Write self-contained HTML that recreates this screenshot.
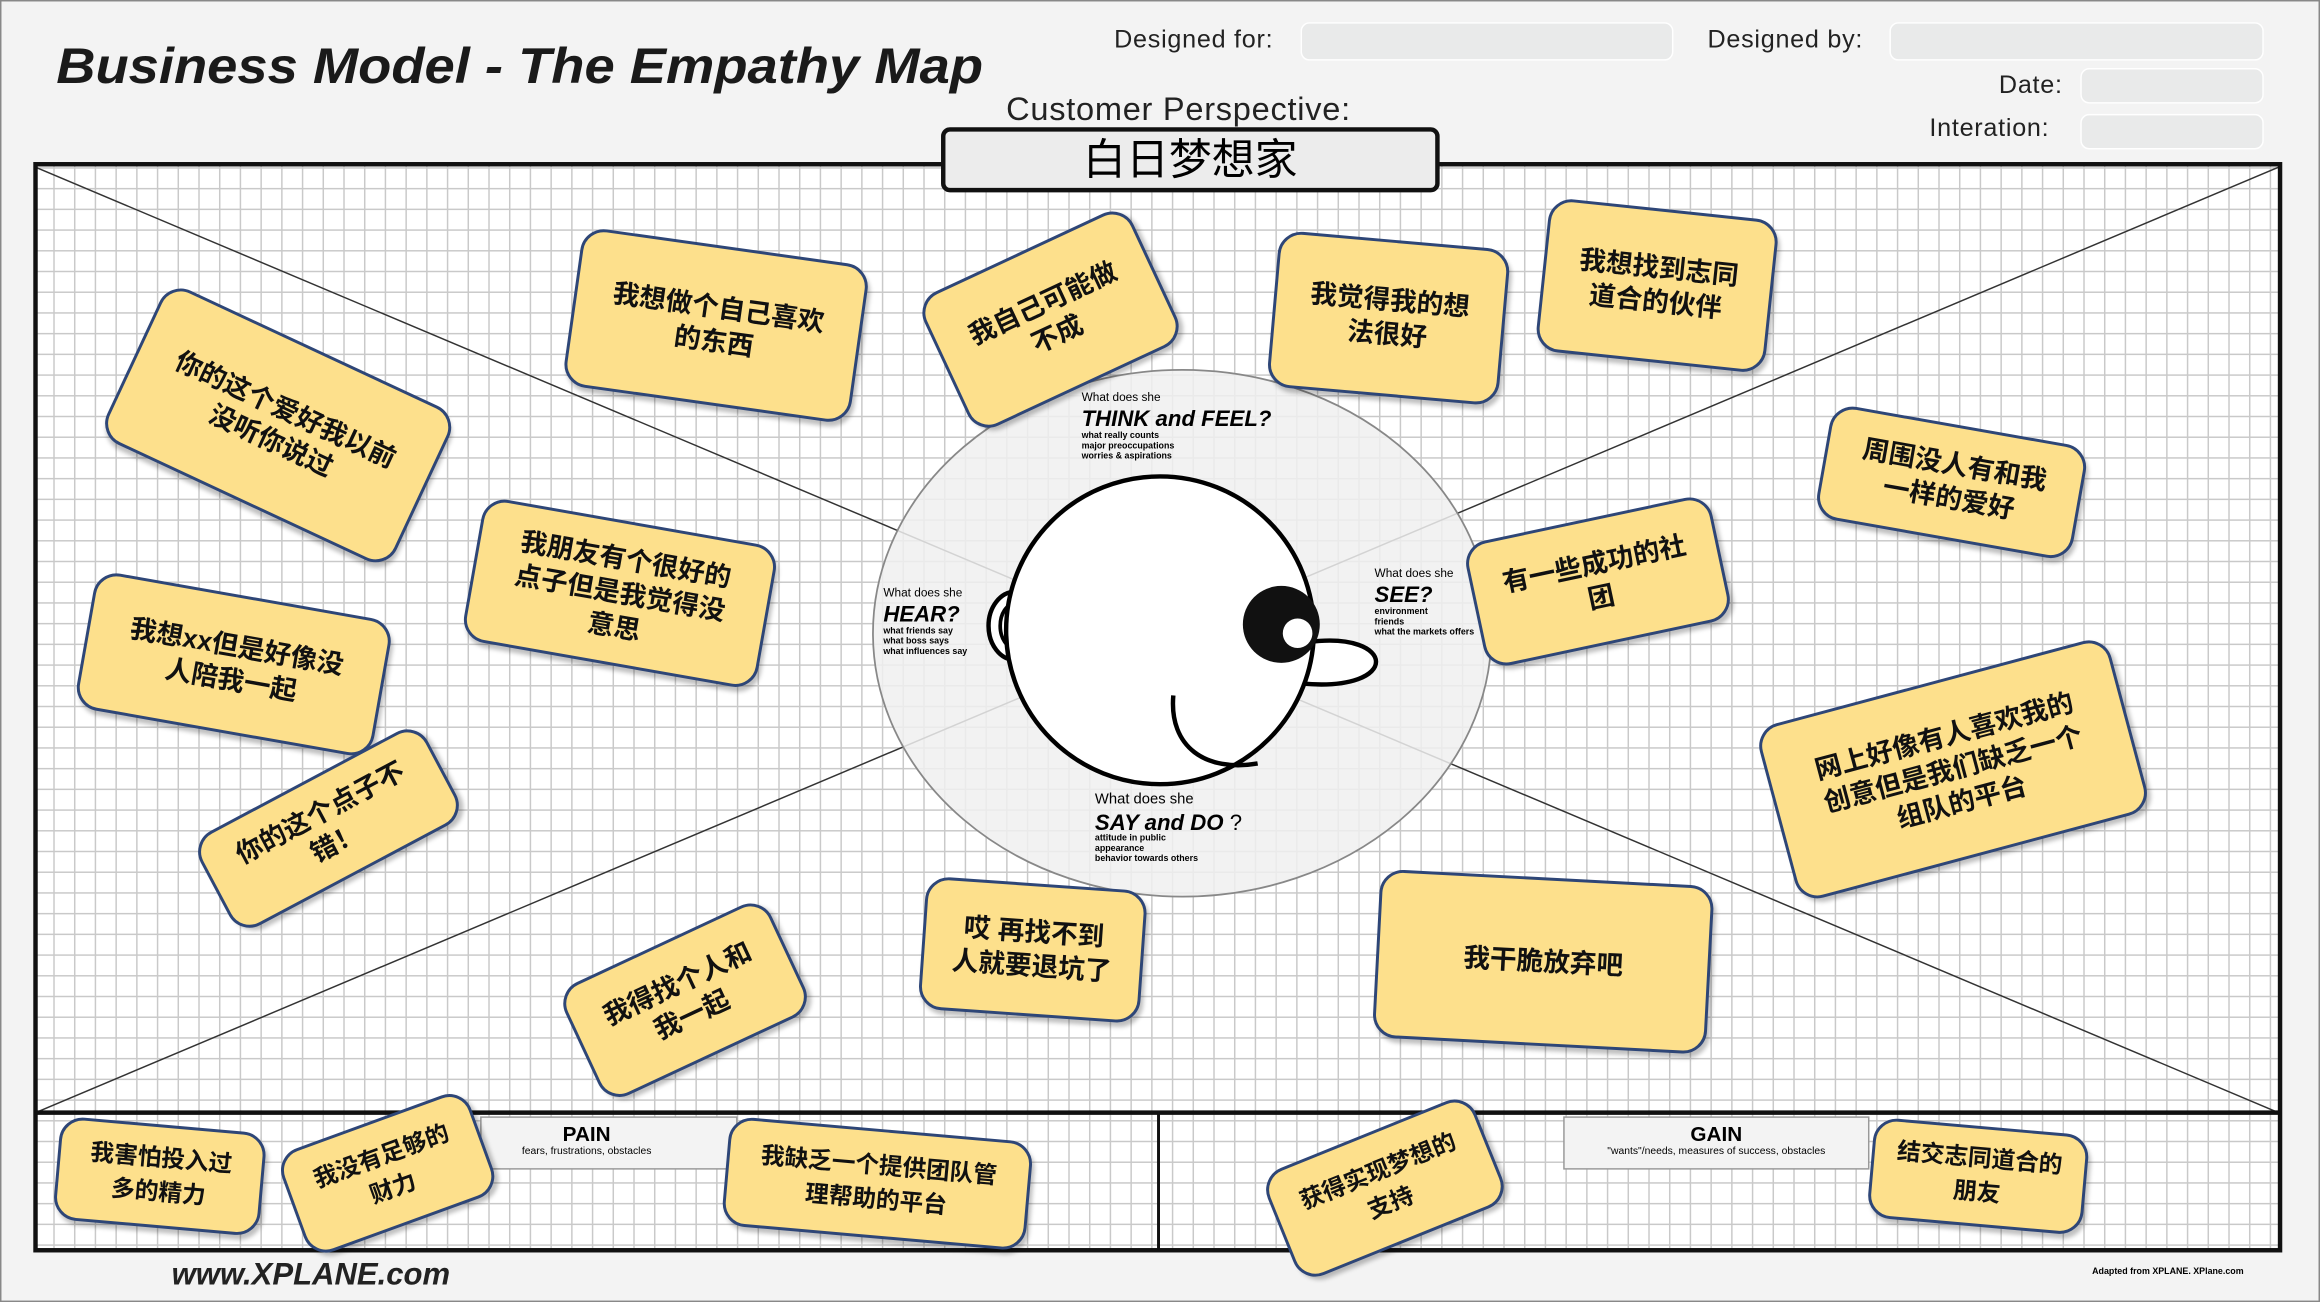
<!DOCTYPE html>
<html><head><meta charset="utf-8">
<style>
html,body{margin:0;padding:0;width:2320px;height:1302px;overflow:hidden;background:#f3f3f3}
#s{position:absolute;left:0;top:0;width:1568px;height:880px;transform:scale(1.479592);transform-origin:0 0;font-family:"Liberation Sans","Noto Sans CJK SC",sans-serif;}
.grid{position:absolute;left:24px;top:111px;width:1517px;height:734px;background-color:#fff;
background-image:linear-gradient(#c9c9c9 1px,transparent 1px),linear-gradient(90deg,#c9c9c9 1px,transparent 1px);background-size:14px 14px;background-position:-2px 2px;}
.n{position:absolute;background:#fde08c;border:2px solid #2e4677;border-radius:16px;display:flex;align-items:center;justify-content:center;text-align:center;font-weight:bold;font-size:18px;line-height:23px;color:#111;box-shadow:2px 3px 3px rgba(0,0,0,.25);box-sizing:border-box;padding:4px 4px;white-space:nowrap;font-family:"Liberation Sans","Noto Sans CJK SC",sans-serif}
.f{position:absolute;background:#e9eaea;border-radius:6px;border:1px solid #fff}
.l{position:absolute;font-size:17px;color:#222;letter-spacing:.5px;white-space:nowrap}
.sm{font-size:6px;font-weight:bold;line-height:7px}
</style></head><body><div id="s">
<div style="position:absolute;left:0;top:0;width:1566px;height:878px;border:1px solid #888"></div>
<div style="position:absolute;left:38px;top:26px;font-size:34px;font-weight:bold;font-style:italic;color:#1a1a1a;transform:scaleX(1.08);transform-origin:0 0;white-space:nowrap">Business Model - The Empathy Map</div>
<div class="l" style="left:753px;top:17px">Designed for:</div>
<div class="f" style="left:879px;top:15px;width:250px;height:24px"></div>
<div class="l" style="left:1154px;top:17px">Designed by:</div>
<div class="f" style="left:1277px;top:15px;width:251px;height:24px"></div>
<div class="l" style="left:1351px;top:48px">Date:</div>
<div class="f" style="left:1406px;top:46px;width:122px;height:22px"></div>
<div class="l" style="left:1304px;top:77px">Interation:</div>
<div class="f" style="left:1406px;top:77px;width:122px;height:22px"></div>
<div class="l" style="left:680px;top:61px;font-size:22px">Customer Perspective:</div>

<div class="grid"></div>
<svg style="position:absolute;left:0;top:0" width="1568" height="880">
<line x1="24" y1="113" x2="1540" y2="752" stroke="#333" stroke-width="1"/>
<line x1="1540" y1="113" x2="24" y2="752" stroke="#333" stroke-width="1"/>
<ellipse cx="799" cy="428" rx="209" ry="178" fill="rgba(240,240,240,0.85)" stroke="#888" stroke-width="1.2"/>
<path d="M686 400 a14 18 0 0 0 0 46" fill="#fff" stroke="#000" stroke-width="3"/>
<path d="M686 408 a8 12 0 0 0 0 30" fill="none" stroke="#000" stroke-width="2.5"/>
<path d="M884 434 C 944 426, 948 468, 880 462" fill="#fff" stroke="#000" stroke-width="3"/>
<circle cx="784" cy="426" r="104" fill="#fff" stroke="#000" stroke-width="3"/>
<circle cx="866" cy="422" r="26" fill="#111"/>
<circle cx="877" cy="428" r="10" fill="#fff"/>
<path d="M793 470 C 790 505 815 522 850 516" fill="none" stroke="#000" stroke-width="3"/>
<rect x="24" y="111" width="1517" height="734" fill="none" stroke="#111" stroke-width="3"/>
<line x1="24" y1="752" x2="1541" y2="752" stroke="#111" stroke-width="3"/>
<line x1="783" y1="752" x2="783" y2="845" stroke="#111" stroke-width="2"/>
<rect x="325" y="755" width="173" height="35" fill="#f3f3f3" stroke="#999"/>
<rect x="1057" y="755" width="206" height="35" fill="#f3f3f3" stroke="#999"/>
</svg>
<div style="position:absolute;left:325px;top:758px;width:143px;text-align:center;font-size:14px;font-weight:bold">PAIN</div>
<div style="position:absolute;left:325px;top:775px;width:143px;text-align:center;font-size:7px">fears, frustrations, obstacles</div>
<div style="position:absolute;left:1057px;top:758px;width:206px;text-align:center;font-size:14px;font-weight:bold">GAIN</div>
<div style="position:absolute;left:1057px;top:775px;width:206px;text-align:center;font-size:7px">"wants"/needs, measures of success, obstacles</div>

<div style="position:absolute;left:636px;top:86px;width:337px;height:44px;background:#ececec;border:3px solid #111;border-radius:6px;box-sizing:border-box;text-align:center;font-size:29px;line-height:40px;font-family:'Liberation Sans','Noto Sans CJK SC',sans-serif">白日梦想家</div>

<div style="position:absolute;left:731px;top:264px;font-size:8px">What does she</div>
<div style="position:absolute;left:731px;top:275px;font-size:15px;font-weight:bold;font-style:italic">THINK and FEEL?</div>
<div class="sm" style="position:absolute;left:731px;top:292px">what really counts<br>major preoccupations<br>worries &amp; aspirations</div>
<div style="position:absolute;left:597px;top:396px;font-size:8px">What does she</div>
<div style="position:absolute;left:597px;top:407px;font-size:15px;font-weight:bold;font-style:italic">HEAR?</div>
<div class="sm" style="position:absolute;left:597px;top:424px">what friends say<br>what boss says<br>what influences say</div>
<div style="position:absolute;left:929px;top:383px;font-size:8px">What does she</div>
<div style="position:absolute;left:929px;top:394px;font-size:15px;font-weight:bold;font-style:italic">SEE?</div>
<div class="sm" style="position:absolute;left:929px;top:411px">environment<br>friends<br>what the markets offers</div>
<div style="position:absolute;left:740px;top:535px;font-size:10px">What does she</div>
<div style="position:absolute;left:740px;top:548px;font-size:15px;font-weight:bold;font-style:italic">SAY and DO <span style="font-weight:normal;font-style:normal">?</span></div>
<div class="sm" style="position:absolute;left:740px;top:564px">attitude in public<br>appearance<br>behavior towards others</div>

<div class="n" style="left:80px;top:230px;width:216px;height:115px;transform:rotate(25deg)">你的这个爱好我以前<br>没听你说过</div>
<div class="n" style="left:386px;top:166px;width:196px;height:108px;transform:rotate(8deg)">我想做个自己喜欢<br>的东西</div>
<div class="n" style="left:632px;top:166px;width:156px;height:100px;transform:rotate(-25deg)">我自己可能做<br>不成</div>
<div class="n" style="left:860px;top:162px;width:157px;height:106px;transform:rotate(5deg)">我觉得我的想<br>法很好</div>
<div class="n" style="left:1042px;top:141px;width:156px;height:104px;transform:rotate(6deg)">我想找到志同<br>道合的伙伴</div>
<div class="n" style="left:1231px;top:287px;width:176px;height:78px;transform:rotate(10deg)">周围没人有和我<br>一样的爱好</div>
<div class="n" style="left:318px;top:352px;width:202px;height:98px;transform:rotate(10deg)">我朋友有个很好的<br>点子但是我觉得没<br>意思</div>
<div class="n" style="left:995px;top:350px;width:170px;height:86px;transform:rotate(-12deg)">有一些成功的社<br>团</div>
<div class="n" style="left:56px;top:402px;width:204px;height:94px;transform:rotate(10deg)">我想xx但是好像没<br>人陪我一起</div>
<div class="n" style="left:135px;top:524px;width:174px;height:72px;transform:rotate(-28deg)">你的这个点子不<br>错！</div>
<div class="n" style="left:1197px;top:459px;width:246px;height:122px;transform:rotate(-15deg)">网上好像有人喜欢我的<br>创意但是我们缺乏一个<br>组队的平台</div>
<div class="n" style="left:386px;top:634px;width:154px;height:84px;transform:rotate(-25deg)">我得找个人和<br>我一起</div>
<div class="n" style="left:623px;top:597px;width:150px;height:90px;transform:rotate(4deg)">哎 再找不到<br>人就要退坑了</div>
<div class="n" style="left:930px;top:593px;width:226px;height:114px;transform:rotate(3deg)">我干脆放弃吧</div>
<div class="n" style="left:38px;top:760px;width:140px;height:70px;transform:rotate(5deg);font-size:16px">我害怕投入过<br>多的精力</div>
<div class="n" style="left:194px;top:756px;width:136px;height:74px;transform:rotate(-20deg);font-size:16px">我没有足够的<br>财力</div>
<div class="n" style="left:490px;top:763px;width:206px;height:74px;transform:rotate(5deg);font-size:16px">我缺乏一个提供团队管<br>理帮助的平台</div>
<div class="n" style="left:860px;top:764px;width:152px;height:78px;transform:rotate(-22deg);font-size:16px">获得实现梦想的<br>支持</div>
<div class="n" style="left:1264px;top:761px;width:146px;height:68px;transform:rotate(5deg);font-size:16px">结交志同道合的<br>朋友</div>

<div style="position:absolute;left:116px;top:850px;font-size:21px;font-style:italic;font-weight:bold;color:#222">www.XPLANE.com</div>
<div style="position:absolute;left:1414px;top:857px;font-size:6px;font-weight:bold">Adapted from XPLANE. XPlane.com</div>
</div></body></html>
